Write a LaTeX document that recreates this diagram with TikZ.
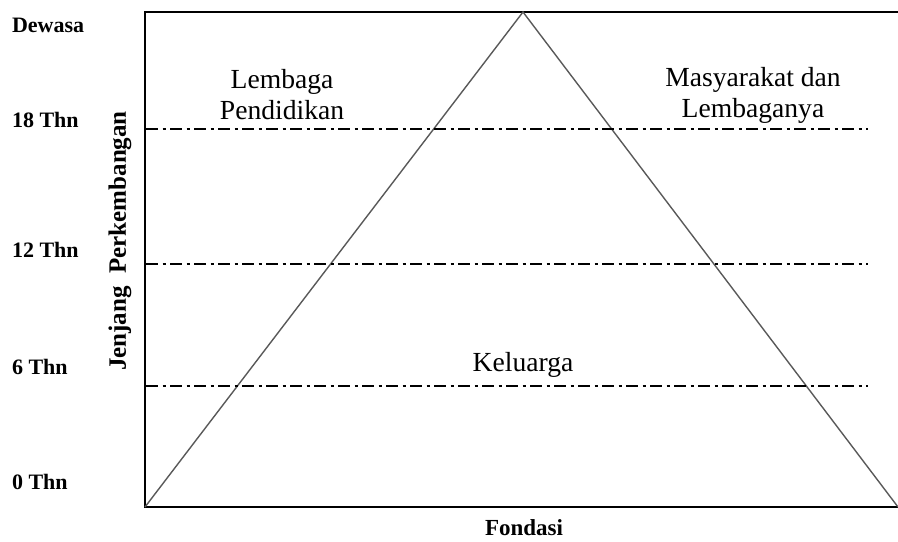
\documentclass[tikz,border=0pt]{standalone}
\usepackage{fontspec}
\setmainfont{Liberation Serif}

\tikzset{
  every age/.style={
    anchor=west,
    font=\bfseries\fontsize{11}{13}\selectfont
  },
  level line/.style={
    line width=0.9pt,
    dash pattern=on 6pt off 2.25pt on 1.5pt off 2.25pt
  },
  area label/.style={
    align=center,
    font=\fontsize{13.8}{15.5}\selectfont
  },
}

\begin{document}
\begin{tikzpicture}[x=0.5pt, y=-0.5pt]
  \useasboundingbox (0,0) rectangle (898,541);

  \coordinate (frame-tr) at (898,12);
  \coordinate (frame-tl) at (145,12);
  \coordinate (frame-bl) at (145,507);
  \coordinate (frame-br) at (898,507);
  \coordinate (apex) at (523,12);

  \draw [line width=1pt] (frame-tr) -- (frame-tl) -- (frame-bl) -- (frame-br);
  \draw [line width=0.7pt, black!65] (frame-bl) -- (apex) -- (frame-br);

  \foreach \m/\y in {18/129, 12/264, 6/386} {
    \coordinate (line-\m-a) at (146,\y);
    \coordinate (line-\m-b) at (868,\y);
    \draw [level line] (line-\m-a) -- (line-\m-b);
  }

  \foreach \m/\l/\y in {dewasa/Dewasa/25, 18/18 Thn/120, 12/12 Thn/250, 6/6 Thn/367, 0/0 Thn/482}
    \node [every age] (age-\m) at (5,\y) {\l};

  \node [rotate=90, font=\bfseries\fontsize{12.5}{15}\selectfont]
    (jenjang) at (120,241) {Jenjang\ \ Perkembangan};

  \node [area label] (lembaga) at (282,95) {Lembaga\\Pendidikan};
  \node [area label] (masyarakat) at (753,95) {Masyarakat dan\\Lembaganya};
  \node [area label] (keluarga) at (523,365) {Keluarga};

  \node [inner sep=0pt, font=\bfseries\fontsize{11.5}{14}\selectfont] (fondasi) at (524,528) {Fondasi};

\end{tikzpicture}
\end{document}
